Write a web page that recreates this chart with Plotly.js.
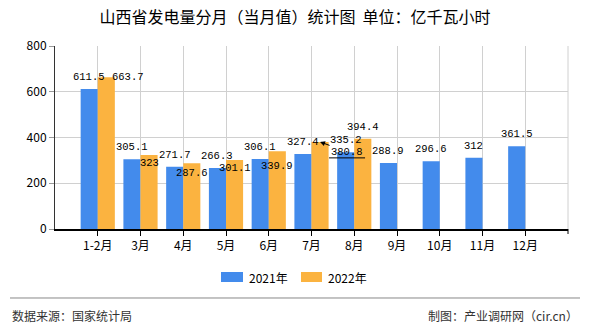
<!DOCTYPE html>
<html>
<head>
<meta charset="utf-8">
<script src="https://cdn.plot.ly/plotly-3.0.1.min.js"></script>
<style>html,body{margin:0;padding:0;background:#fff;}#chart{width:590px;height:330px;}</style>
</head>
<body>
<div id="chart"></div>
<script>
const categories = ['1-2月','3月','4月','5月','6月','7月','8月','9月','10月','11月','12月'];
const series2021 = [611.5,305.1,271.7,266.3,306.1,327.4,335.2,288.9,296.6,312,361.5];
const series2022 = [663.7,323,287.6,301.1,339.9,380.8,394.4];
const seriesNames = ['2021年','2022年'];
const yTicks = [0,200,400,600,800];

// label offsets (pixels) — styling only
const shift2022 = [[22,0],[0,-8],[0,-10],[0,-8],[0,-15],null,[0,12]];
const calloutIndex = 5;

const blue = '#438BEC', orange = '#FBB340';
const cjk = '"Noto Sans CJK SC", "Noto Sans", sans-serif';
const mono = '"Liberation Mono", "DejaVu Sans Mono", monospace';
const labelFont = {family:mono, size:10.5, color:'#000'};

const traces = [
  {type:'bar', name:seriesNames[0], x:categories, y:series2021, marker:{color:blue}, hoverinfo:'none'},
  {type:'bar', name:seriesNames[1], x:categories.slice(0, series2022.length), y:series2022, marker:{color:orange}, hoverinfo:'none'}
];

const annotations = [];
series2021.forEach((v,i)=>{
  annotations.push({x:i-0.2, y:v, xref:'x', yref:'y', text:String(v), showarrow:false,
    yshift:12, yanchor:'middle', font:labelFont});
});
series2022.forEach((v,i)=>{
  if (i === calloutIndex) {
    annotations.push({x:i+0.2, y:v, xref:'x', yref:'y', text:String(v), showarrow:true,
      ax:27, ay:10, arrowhead:2, arrowsize:1, arrowwidth:1, arrowcolor:'#000', standoff:0,
      font:labelFont});
  } else {
    const s = shift2022[i];
    annotations.push({x:i+0.2, y:v, xref:'x', yref:'y', text:String(v), showarrow:false,
      xshift:s[0], yshift:s[1], yanchor:'middle', font:labelFont});
  }
});

// legend (custom)
const legendItems = [
  {name:seriesNames[0], color:blue, x0:0.3236, x1:0.3665, tx:0.3743},
  {name:seriesNames[1], color:orange, x0:0.4795, x1:0.5205, tx:0.5283}
];
const shapes = [
  {type:'line', xref:'paper', yref:'paper', x0:1, x1:1, y0:0, y1:1, line:{color:'#d0d0d0', width:1}, layer:'below'},
  {type:'line', xref:'paper', yref:'paper', ysizemode:'pixel', yanchor:0, x0:1, x1:1, y0:0, y1:-5, line:{color:'#000', width:1}},
  {type:'line', xref:'paper', yref:'paper', x0:-0.0877, x1:1.0234, y0:-0.377, y1:-0.377, line:{color:'#888', width:1}},
  {type:'line', xref:'x', yref:'y', xsizemode:'pixel', ysizemode:'pixel',
    xanchor:calloutIndex+0.2, yanchor:series2022[calloutIndex], x0:9, x1:45, y0:-16, y1:-16,
    line:{color:'#000', width:1}}
];
legendItems.forEach(it=>{
  shapes.push({type:'rect', xref:'paper', yref:'paper', x0:it.x0, x1:it.x1, y0:-0.2896, y1:-0.235,
    fillcolor:it.color, line:{width:0}});
  annotations.push({xref:'paper', yref:'paper', x:it.tx, y:-0.2623, xanchor:'left', yanchor:'middle',
    text:it.name, showarrow:false, font:{family:cjk, size:12, color:'#000'}});
});
annotations.push({xref:'paper', yref:'paper', x:-0.0877, y:-0.47, xanchor:'left', yanchor:'middle',
  text:'数据来源：国家统计局', showarrow:false, font:{family:cjk, size:12, color:'#333'}});
annotations.push({xref:'paper', yref:'paper', x:1.0234, y:-0.47, xanchor:'right', yanchor:'middle',
  text:'制图：产业调研网（cir.cn）', showarrow:false, font:{family:cjk, size:12, color:'#333'}});

const layout = {
  width:590, height:330,
  margin:{l:55, r:22, t:46, b:101},
  paper_bgcolor:'#fff', plot_bgcolor:'#fff',
  title:{text:'山西省发电量分月（当月值）统计图  单位：亿千瓦小时', x:0.5, xref:'container', xanchor:'center',
    y:1-17/330, yref:'container', yanchor:'middle', font:{family:cjk, size:16, color:'#000'}},
  showlegend:false,
  barmode:'group', bargap:0.2, bargroupgap:0,
  xaxis:{type:'category', range:[-1,11], showgrid:true, gridcolor:'#d0d0d0', gridwidth:1,
    showline:true, linecolor:'#000', linewidth:1.5, ticks:'outside', ticklen:5, tickcolor:'#000',
    tickfont:{family:cjk, size:12, color:'#000'}, fixedrange:true},
  yaxis:{range:[0,800], tickvals:yTicks, showgrid:true, gridcolor:'#d0d0d0', gridwidth:1,
    showline:true, linecolor:'#333', linewidth:1, ticks:'outside', ticklen:5, tickcolor:'#999',
    zeroline:false, tickfont:{family:cjk, size:12, color:'#000'}, fixedrange:true},
  annotations:annotations,
  shapes:shapes
};
Plotly.newPlot('chart', traces, layout, {staticPlot:true, displayModeBar:false});
</script>
</body>
</html>
